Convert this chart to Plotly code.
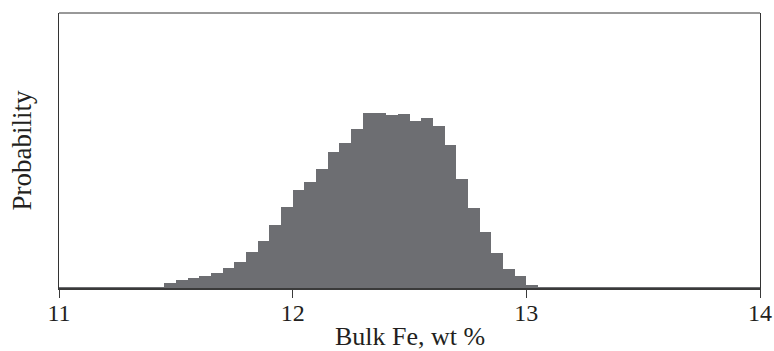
import plotly.graph_objects as go

# Histogram of simulated bulk Fe content (wt %), bin width 0.05
bin_width = 0.05
bin_count = 60
bin_left = [round(11.0 + bin_width * i, 2) for i in range(bin_count)]

# Probability per bin (%), bins from 11.00 to 13.95
probability = [
    0.02, 0.02, 0.02, 0.02, 0.02, 0.02, 0.02, 0.02, 0.02,          # 11.00 - 11.40
    0.19, 0.29, 0.35, 0.45, 0.54, 0.74, 0.96, 1.30, 1.73, 2.30,     # 11.45 - 11.90
    2.97, 3.58, 3.88, 4.34, 4.95, 5.30, 5.80, 6.38, 6.40, 6.31,     # 11.95 - 12.40
    6.34, 6.11, 6.19, 5.91, 5.22, 3.98, 2.91, 2.03, 1.29, 0.69,     # 12.45 - 12.90
    0.44, 0.11, 0.03,                                               # 12.95 - 13.05
    0.02, 0.02, 0.02, 0.02, 0.02, 0.02, 0.02, 0.02, 0.02,           # 13.10 - 13.50
    0.02, 0.02, 0.02, 0.02, 0.02, 0.02, 0.02, 0.02, 0.02,           # 13.55 - 13.95
]

x_ticks = [11, 12, 13, 14]
x_title = "Bulk Fe, wt %"
y_title = "Probability"

bin_center = [b + bin_width / 2 for b in bin_left]

serif = "Liberation Serif, Times New Roman, serif"
ink = "#231f20"

fig = go.Figure(
    go.Bar(
        x=bin_center,
        y=probability,
        width=bin_width,
        marker=dict(color="#6d6e72", line=dict(width=0)),
        hoverinfo="x+y",
    )
)

fig.update_layout(
    width=774,
    height=351,
    margin=dict(l=59, r=14, t=13, b=63),
    paper_bgcolor="white",
    plot_bgcolor="white",
    bargap=0,
    showlegend=False,
    font=dict(family=serif, color=ink),
    xaxis=dict(
        range=[11, 14],
        tickvals=x_ticks,
        ticktext=[str(t) for t in x_ticks],
        ticks="outside",
        ticklen=8,
        tickwidth=1,
        tickcolor="#3a3a3a",
        ticklabelstandoff=-6,
        showline=True,
        linewidth=2,
        linecolor="#3a3a3a",
        showgrid=False,
        zeroline=False,
        automargin=False,
        tickfont=dict(family=serif, size=24, color=ink),
    ),
    yaxis=dict(
        range=[0, 10.04],
        showticklabels=False,
        ticks="",
        showgrid=False,
        zeroline=False,
        showline=True,
        linewidth=1,
        linecolor="#333333",
        mirror=True,
        automargin=False,
    ),
    shapes=[
        dict(type="line", xref="paper", yref="paper", x0=0, x1=1, y0=1, y1=1,
             line=dict(color="#333333", width=1)),
    ],
    annotations=[
        dict(text=x_title, xref="paper", yref="paper", x=0.5, y=-0.175,
             xanchor="center", yanchor="middle", showarrow=False, borderpad=0,
             font=dict(family=serif, size=26, color=ink)),
        dict(text=y_title, xref="paper", yref="paper", x=-0.0528, y=0.5,
             xanchor="center", yanchor="middle", textangle=-90, showarrow=False,
             font=dict(family=serif, size=27, color=ink)),
    ],
)

fig.write_html("out.html")
